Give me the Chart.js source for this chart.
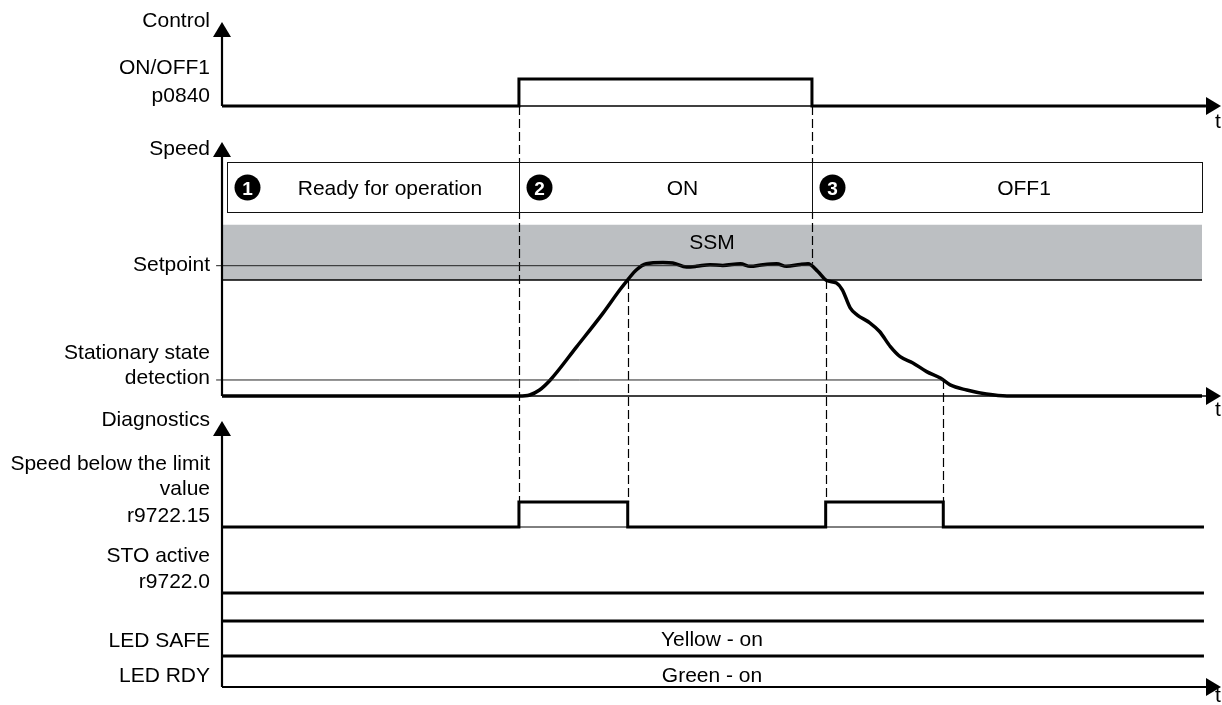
<!DOCTYPE html>
<html>
<head>
<meta charset="utf-8">
<script src="https://cdn.jsdelivr.net/npm/chart.js@4"></script>
<style>
  html, body { margin: 0; padding: 0; background: #fff; }
  #wrap { width: 1222px; height: 705px; }
</style>
</head>
<body>
<div id="wrap"><canvas id="timing" width="1222" height="705"></canvas></div>
<script>
// time in ms, speed in % of setpoint
const eventTimes = [303, 414, 602, 616, 736]; // ON, setpoint reached, OFF1, leaves SSM, standstill
const phaseNames = ["Ready for operation", "ON", "OFF1"];
const phaseStarts = [0, 303, 602];

const laneTitles = ["Control", "Speed", "Diagnostics"];
const signalNames = [
  ["ON/OFF1", "p0840"],
  ["Setpoint"],
  ["Stationary state", "detection"],
  ["Speed below the limit", "value", "r9722.15"],
  ["STO active", "r9722.0"],
  ["LED SAFE"],
  ["LED RDY"]
];
const ledStates = ["Yellow - on", "Green - on"];

const onOffTimes = [0, 303, 602, 1004];
const onOffLevels = [0, 1, 0, 0];

const speedTimes = [0, 303, 314, 324, 335, 362, 389, 406, 414, 423,
  433, 450, 460, 474, 484, 498, 511, 529, 539, 552,
  566, 576, 590, 598, 608, 617, 627, 633, 641, 648,
  661, 671, 682, 692, 705, 719, 733, 743, 760, 780,
  801, 1000];
const speedValues = [0, 0, 0.8, 4.6, 12.3, 37.9, 63.8, 81.5, 89.2, 96.9,
  101.5, 102.5, 102.1, 99, 99.5, 100.8, 100.2, 101.5, 99.5, 100.8,
  101.5, 99.5, 101, 101.5, 95.6, 88.7, 86.7, 81.5, 67.7, 62.3,
  56.2, 49.5, 37.9, 30.2, 25.4, 18.7, 13.8, 8.5, 4.6, 1.5,
  0, 0];

const setpoint = 100;
const ssmBand = [89, 131.5];
const standstillLimit = 12.3;

const limitTimes = [0, 303, 414, 616, 736, 1002];
const limitLevels = [0, 1, 0, 1, 0, 0];
const stoTimes = [0, 1002];
const stoLevels = [0, 0];

// ---- layout ----
const W = 1222, H = 705;
const AXIS_X = 222;
const PX_PER_MS = 0.98;
const ARROW_TIP = 1221;
const FONT = '21px "Liberation Sans", Arial, sans-serif';

// value v0 sits at pixel p0, v1 at pixel p1 (chart area = whole canvas)
function lane(v0, p0, v1, p1) {
  const s = (p0 - p1) / (v1 - v0);
  return { min: v0 - (H - p0) / s, max: v1 + p1 / s };
}

const pts = (ts, vs) => ts.map((t, i) => ({ x: t, y: vs[i] }));
const line = (data, yAxisID, extra) => Object.assign({
  data, yAxisID, borderColor: "#000", borderWidth: 3, pointRadius: 0, fill: false, tension: 0
}, extra);

const datasets = [
  line([{ x: 0, y: ssmBand[1] }, { x: 1000, y: ssmBand[1] }], "ySpeed",
    { borderWidth: 0, fill: { value: ssmBand[0] }, backgroundColor: "#bcbfc2", order: 10 }),
  line([{ x: 0, y: ssmBand[0] }, { x: 1000, y: ssmBand[0] }], "ySpeed", { borderWidth: 1.5 }),
  line([{ x: -6, y: setpoint }, { x: eventTimes[2], y: setpoint }], "ySpeed", { borderWidth: 1, borderColor: "#222" }),
  line([{ x: -6, y: standstillLimit }, { x: eventTimes[4], y: standstillLimit }], "ySpeed", { borderWidth: 1, borderColor: "#222" }),
  line(pts(speedTimes, speedValues), "ySpeed", { borderWidth: 3.5, cubicInterpolationMode: "monotone" }),
  line(pts(onOffTimes, onOffLevels), "yCtl", { stepped: true }),
  line(pts(limitTimes, limitLevels), "yLim", { stepped: true }),
  line(pts(stoTimes, stoLevels), "ySto"),
  line([{ x: 0, y: 1 }, { x: 1002, y: 1 }], "ySafe"),
  line([{ x: 0, y: 0 }, { x: 1002, y: 0 }], "ySafe")
];

function arrowUp(ctx, x, tipY) {
  ctx.beginPath();
  ctx.moveTo(x, tipY); ctx.lineTo(x - 9, tipY + 15); ctx.lineTo(x + 9, tipY + 15);
  ctx.closePath(); ctx.fill();
}
function arrowRight(ctx, tipX, y) {
  ctx.beginPath();
  ctx.moveTo(tipX, y); ctx.lineTo(tipX - 15, y - 9); ctx.lineTo(tipX - 15, y + 9);
  ctx.closePath(); ctx.fill();
}

const timing = {
  id: "timing",
  beforeDatasetsDraw(chart) {
    const { ctx, scales: s } = chart;
    const x0 = s.x.getPixelForValue(0);
    ctx.save();
    ctx.strokeStyle = "#000";
    [[s.yCtl.getPixelForValue(0), 1.5, ARROW_TIP - 14],
     [s.ySpeed.getPixelForValue(0), 1.5, ARROW_TIP - 14],
     [s.yRdy.getPixelForValue(0), 2, ARROW_TIP - 14],
     [s.yLim.getPixelForValue(0), 1, s.x.getPixelForValue(1002)]].forEach(([y, w, end]) => {
      ctx.lineWidth = w;
      ctx.beginPath(); ctx.moveTo(x0, y); ctx.lineTo(end, y); ctx.stroke();
    });
    ctx.restore();
  },
  afterDatasetDraw(chart, args) {
    if (args.index !== 0) return;
    const { ctx, scales: s } = chart;
    const limTop = s.yLim.getPixelForValue(1);
    const guides = [
      [eventTimes[0], s.yCtl.getPixelForValue(0), limTop],
      [eventTimes[2], s.yCtl.getPixelForValue(0), s.ySpeed.getPixelForValue(101.5)],
      [eventTimes[1], s.ySpeed.getPixelForValue(ssmBand[0]), limTop],
      [eventTimes[3], s.ySpeed.getPixelForValue(ssmBand[0]), limTop],
      [eventTimes[4], s.ySpeed.getPixelForValue(standstillLimit), limTop]
    ];
    ctx.save();
    ctx.strokeStyle = "#000";
    ctx.lineWidth = 1.2;
    ctx.setLineDash([9, 4]);
    guides.forEach(([t, y1, y2]) => {
      const x = Math.round(s.x.getPixelForValue(t)) + 0.5;
      ctx.beginPath(); ctx.moveTo(x, y1); ctx.lineTo(x, y2); ctx.stroke();
    });
    ctx.restore();
  },
  afterDraw(chart) {
    const { ctx, scales: s } = chart;
    const x0 = s.x.getPixelForValue(0);
    ctx.save();
    ctx.fillStyle = "#000";
    ctx.strokeStyle = "#000";

    // vertical axes with arrows
    ctx.lineWidth = 2.2;
    [[22, s.yCtl.getPixelForValue(0)], [142, s.ySpeed.getPixelForValue(0)], [421, s.yRdy.getPixelForValue(0)]]
      .forEach(([tip, bottom]) => {
        ctx.beginPath(); ctx.moveTo(x0, tip + 14); ctx.lineTo(x0, bottom); ctx.stroke();
        arrowUp(ctx, x0, tip);
      });
    [s.yCtl.getPixelForValue(0), s.ySpeed.getPixelForValue(0), s.yRdy.getPixelForValue(0)]
      .forEach(y => arrowRight(ctx, ARROW_TIP, y));

    // phase box
    const boxL = x0 + 5.5, boxR = s.x.getPixelForValue(1000) + 0.5, boxT = 162.5, boxB = 212.5;
    ctx.fillStyle = "#fff";
    ctx.fillRect(boxL, boxT, boxR - boxL, boxB - boxT);
    ctx.lineWidth = 1;
    ctx.strokeStyle = "#111";
    ctx.strokeRect(boxL, boxT, boxR - boxL, boxB - boxT);
    const edges = phaseStarts.map((t, i) => i === 0 ? boxL : Math.round(s.x.getPixelForValue(t)) + 0.5);
    edges.slice(1).forEach(x => { ctx.beginPath(); ctx.moveTo(x, boxT); ctx.lineTo(x, boxB); ctx.stroke(); });
    edges.push(boxR);
    const midY = (boxT + boxB) / 2;
    phaseNames.forEach((name, i) => {
      const cx = edges[i] + 20;
      ctx.fillStyle = "#000";
      ctx.beginPath(); ctx.arc(cx, midY, 13, 0, Math.PI * 2); ctx.fill();
      ctx.fillStyle = "#fff";
      ctx.font = 'bold 19px "Liberation Sans", Arial, sans-serif';
      ctx.textAlign = "center"; ctx.textBaseline = "alphabetic";
      ctx.fillText(String(i + 1), cx, midY + 7);
      ctx.fillStyle = "#000";
      ctx.font = FONT;
      ctx.fillText(name, (cx + 13 + edges[i + 1]) / 2, 194.5);
    });

    // labels left
    ctx.font = FONT;
    ctx.fillStyle = "#000";
    ctx.textAlign = "right";
    const labelX = 210;
    const titleBase = [26.5, 155, 426];
    laneTitles.forEach((t, i) => ctx.fillText(t, labelX, titleBase[i]));
    const nameBase = [[73.5, 101.5], [271], [359, 383.5], [469.5, 495, 521.5], [561.5, 587.5], [646.5], [681.5]];
    signalNames.forEach((lines, i) => lines.forEach((t, j) => ctx.fillText(t, labelX, nameBase[i][j])));

    // time labels
    ctx.textAlign = "center";
    [128, 416, 702].forEach(y => ctx.fillText("t", 1218, y));

    // band / row texts
    const midX = (x0 + s.x.getPixelForValue(1000)) / 2;
    ctx.fillText("SSM", midX, 249);
    ctx.fillText(ledStates[0], midX, 646);
    ctx.fillText(ledStates[1], midX, 682);
    ctx.restore();
  }
};

new Chart(document.getElementById("timing"), {
  type: "line",
  data: { datasets },
  options: {
    responsive: false,
    animation: false,
    devicePixelRatio: 1,
    layout: { padding: 0, autoPadding: false },
    plugins: { legend: { display: false }, tooltip: { enabled: false } },
    events: [],
    scales: {
      x: { type: "linear", display: false, min: -AXIS_X / PX_PER_MS, max: (W - AXIS_X) / PX_PER_MS },
      yCtl: { type: "linear", display: false, ...lane(0, 106, 1, 79) },
      ySpeed: { type: "linear", display: false, ...lane(0, 396, 100, 265.7) },
      yLim: { type: "linear", display: false, ...lane(0, 527, 1, 502) },
      ySto: { type: "linear", display: false, ...lane(0, 593, 1, 568) },
      ySafe: { type: "linear", display: false, ...lane(0, 656, 1, 621) },
      yRdy: { type: "linear", display: false, ...lane(0, 687, 1, 656) }
    }
  },
  plugins: [timing]
});
</script>
</body>
</html>
